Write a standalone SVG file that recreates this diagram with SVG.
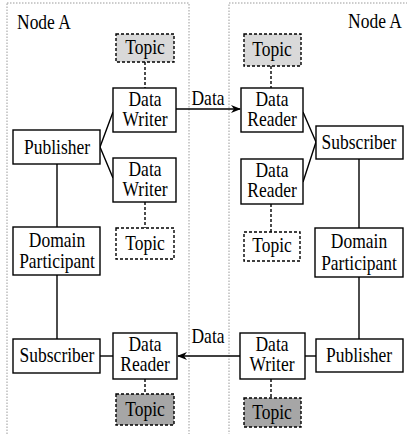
<svg xmlns="http://www.w3.org/2000/svg" width="407" height="434" viewBox="0 0 407 434">
<defs>
<marker id="arr" markerWidth="10" markerHeight="8" refX="9" refY="4" orient="auto" markerUnits="userSpaceOnUse">
<path d="M0,0 L10,4 L0,8 L3,4 Z" fill="#000"/>
</marker>
</defs>
<style>
.cont{fill:none;stroke:#9a9a9a;stroke-width:1;stroke-dasharray:1.5,1.5}
.box{fill:#fff;stroke:#000;stroke-width:1.4}
.tl{fill:#d9d9d9;stroke:#000;stroke-width:1.4;stroke-dasharray:3,2}
.tw{fill:#fff;stroke:#000;stroke-width:1.4;stroke-dasharray:3,2}
.td{fill:#a6a6a6;stroke:#000;stroke-width:1.4;stroke-dasharray:3,2}
.ln{fill:none;stroke:#000;stroke-width:1.4}
.dl{fill:none;stroke:#000;stroke-width:1.4;stroke-dasharray:3,2}
text{font-family:"Liberation Serif","Times New Roman",serif;font-size:17.5px;fill:#000;text-anchor:middle}
</style>
<g id="containers">
<rect class="cont" x="7" y="3" width="182" height="440"/>
<rect class="cont" x="229" y="3" width="190" height="440"/>
<text transform="translate(17,29) scale(1,1.2)" style="text-anchor:start">Node A</text>
<text transform="translate(402,28) scale(1,1.2)" style="text-anchor:end">Node A</text>
</g>
<g id="connectors">
<line class="dl" x1="145" y1="62" x2="145" y2="88"/>
<line class="dl" x1="145" y1="202" x2="145" y2="228"/>
<line class="dl" x1="145" y1="379" x2="145" y2="394"/>
<line class="dl" x1="271" y1="66" x2="271" y2="88"/>
<line class="dl" x1="271" y1="204" x2="271" y2="232"/>
<line class="dl" x1="271" y1="379" x2="271" y2="398"/>
<polyline class="ln" points="113,112 100,147 113,178"/>
<polyline class="ln" points="303,112 316,142 303,182"/>
<line class="ln" x1="57" y1="164" x2="57" y2="227"/>
<line class="ln" x1="57" y1="275" x2="57" y2="339"/>
<line class="ln" x1="359" y1="159" x2="359" y2="228"/>
<line class="ln" x1="359" y1="277" x2="359" y2="339"/>
<line class="ln" x1="100" y1="356" x2="113" y2="356"/>
<line class="ln" x1="305" y1="356" x2="316" y2="356"/>
<line class="ln" x1="176" y1="109" x2="240" y2="109" marker-end="url(#arr)"/>
<line class="ln" x1="240" y1="356" x2="178" y2="356" marker-end="url(#arr)"/>
<text transform="translate(208,105) scale(1,1.2)">Data</text>
<text transform="translate(208,343) scale(1,1.2)">Data</text>
</g>
<g id="topicL1"><rect class="tl" x="116" y="34" width="58" height="28"/><text transform="translate(145,54) scale(1,1.2)">Topic</text></g>
<g id="writerL1"><rect class="box" x="113" y="88" width="63" height="44"/><text transform="translate(145,106) scale(1,1.2)">Data</text><text transform="translate(145,126) scale(1,1.2)">Writer</text></g>
<g id="publisherL"><rect class="box" x="13" y="130" width="87" height="34"/><text transform="translate(57,154) scale(1,1.2)">Publisher</text></g>
<g id="writerL2"><rect class="box" x="113" y="158" width="63" height="44"/><text transform="translate(145,176) scale(1,1.2)">Data</text><text transform="translate(145,196) scale(1,1.2)">Writer</text></g>
<g id="topicL2"><rect class="tw" x="116" y="228" width="58" height="31"/><text transform="translate(145,250) scale(1,1.2)">Topic</text></g>
<g id="participantL"><rect class="box" x="13" y="227" width="87" height="48"/><text transform="translate(57,247) scale(1,1.2)">Domain</text><text transform="translate(57,268) scale(1,1.2)">Participant</text></g>
<g id="subscriberL"><rect class="box" x="13" y="339" width="87" height="34"/><text transform="translate(57,362) scale(1,1.2)">Subscriber</text></g>
<g id="readerL"><rect class="box" x="113" y="333" width="64" height="46"/><text transform="translate(145,351) scale(1,1.2)">Data</text><text transform="translate(145,371) scale(1,1.2)">Reader</text></g>
<g id="topicL3"><rect class="td" x="116" y="394" width="58" height="31"/><text transform="translate(145,416) scale(1,1.2)">Topic</text></g>
<g id="topicR1"><rect class="tl" x="244" y="34" width="57" height="32"/><text transform="translate(272,56) scale(1,1.2)">Topic</text></g>
<g id="readerR1"><rect class="box" x="241" y="88" width="62" height="44"/><text transform="translate(272,106) scale(1,1.2)">Data</text><text transform="translate(272,126) scale(1,1.2)">Reader</text></g>
<g id="subscriberR"><rect class="box" x="316" y="126" width="87" height="33"/><text transform="translate(359,149) scale(1,1.2)">Subscriber</text></g>
<g id="readerR2"><rect class="box" x="241" y="159" width="62" height="45"/><text transform="translate(272,177) scale(1,1.2)">Data</text><text transform="translate(272,197) scale(1,1.2)">Reader</text></g>
<g id="topicR2"><rect class="tw" x="244" y="232" width="56" height="29"/><text transform="translate(272,252) scale(1,1.2)">Topic</text></g>
<g id="participantR"><rect class="box" x="315" y="228" width="88" height="49"/><text transform="translate(359,248) scale(1,1.2)">Domain</text><text transform="translate(359,270) scale(1,1.2)">Participant</text></g>
<g id="publisherR"><rect class="box" x="316" y="339" width="87" height="33"/><text transform="translate(359,362) scale(1,1.2)">Publisher</text></g>
<g id="writerR"><rect class="box" x="240" y="333" width="65" height="46"/><text transform="translate(272,351) scale(1,1.2)">Data</text><text transform="translate(272,371) scale(1,1.2)">Writer</text></g>
<g id="topicR3"><rect class="td" x="244" y="398" width="57" height="29"/><text transform="translate(272,419) scale(1,1.2)">Topic</text></g>
</svg>
